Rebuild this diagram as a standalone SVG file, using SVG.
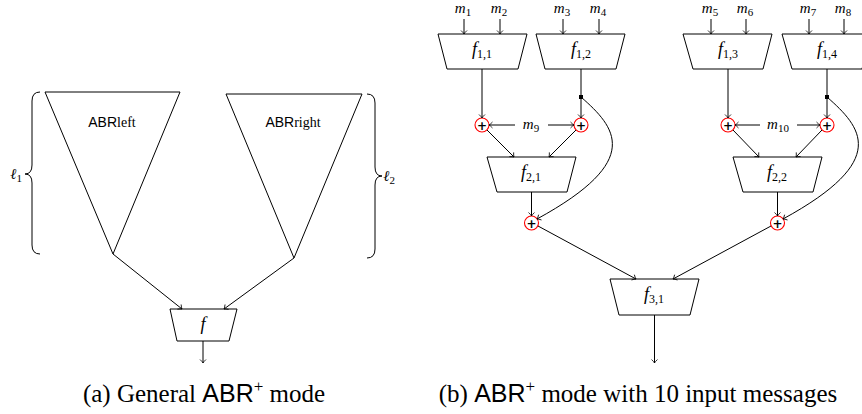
<svg xmlns="http://www.w3.org/2000/svg" width="862" height="414" viewBox="0 0 862 414">
<style>
.sh{fill:#fff;stroke:#000;stroke-width:1}
.ln{fill:none;stroke:#000;stroke-width:1}
.ar{marker-end:url(#ah)}
.ci{fill:#fff;stroke:#f00;stroke-width:1.1}
.pl{font-family:"DejaVu Sans",sans-serif;font-size:12px;font-weight:bold;text-anchor:middle}
.mi{font-family:"Liberation Serif",serif;font-style:italic;font-size:15px;text-anchor:middle}
.fi{font-family:"Liberation Serif",serif;font-style:italic;font-size:18px;text-anchor:middle}
.sub{font-style:normal;font-size:11px}
.fs{font-style:normal;font-size:12px}
.ss{font-family:"Liberation Sans",sans-serif;font-style:normal}
.se{font-family:"Liberation Serif",serif;font-style:normal}
.cap{font-family:"Liberation Serif",serif;font-size:25px;text-anchor:middle}
</style>
<defs>
<marker id="ah" viewBox="-5 -4 6 8" markerWidth="6" markerHeight="8" refX="0" refY="0" orient="auto" markerUnits="userSpaceOnUse">
<path d="M-3.5,-3 Q-1.5,-0.8 0,0 Q-1.5,0.8 -3.5,3" fill="none" stroke="#000" stroke-width="0.8"/>
</marker>
</defs>
<rect width="862" height="414" fill="#fff"/>

<!-- (a) left diagram -->
<g id="abr-left">
<path class="sh" d="M45,92 L180,92 L113,254 Z"/>
<text x="112" y="127" style="font-size:14px;text-anchor:middle"><tspan class="ss">ABR</tspan><tspan class="se">left</tspan></text>
</g>
<g id="abr-right">
<path class="sh" d="M226,94 L362,94 L294,258 Z"/>
<text x="293" y="127" style="font-size:14px;text-anchor:middle"><tspan class="ss">ABR</tspan><tspan class="se">right</tspan></text>
</g>
<g id="brace-l1">
<path class="ln" d="M40,92 Q32,92 32,101 L32,165 Q32,174 25,174 Q32,174 32,183 L32,245 Q32,254 40,254"/>
<text class="mi" x="16" y="179">ℓ<tspan class="sub" dy="3">1</tspan></text>
</g>
<g id="brace-l2">
<path class="ln" d="M367,94 Q375,94 375,103 L375,167 Q375,176 382,176 Q375,176 375,185 L375,249 Q375,258 367,258"/>
<text class="mi" x="389" y="181">ℓ<tspan class="sub" dy="3">2</tspan></text>
</g>
<g id="f">
<path class="sh" d="M170,309 L237,309 L229,341 L177,341 Z"/>
<text class="fi" x="203" y="330">f</text>
</g>

<!-- (b) right diagram nodes -->
<g id="f11"><path class="sh" d="M438,34 L527,34 L518,69 L447,69 Z"/><text class="fi" x="482" y="55">f<tspan class="fs" dy="3">1,1</tspan></text></g>
<g id="f12"><path class="sh" d="M536,34 L625,34 L616,69 L545,69 Z"/><text class="fi" x="581" y="55">f<tspan class="fs" dy="3">1,2</tspan></text></g>
<g id="f13"><path class="sh" d="M683,34 L772,34 L763,69 L693,69 Z"/><text class="fi" x="728" y="55">f<tspan class="fs" dy="3">1,3</tspan></text></g>
<g id="f14"><path class="sh" d="M782,34 L871,34 L862,69 L792,69 Z"/><text class="fi" x="827" y="55">f<tspan class="fs" dy="3">1,4</tspan></text></g>
<g id="f21"><path class="sh" d="M487,157 L576,157 L567,192 L497,192 Z"/><text class="fi" x="531" y="178">f<tspan class="fs" dy="3">2,1</tspan></text></g>
<g id="f22"><path class="sh" d="M733,157 L822,157 L813,192 L743,192 Z"/><text class="fi" x="777" y="178">f<tspan class="fs" dy="3">2,2</tspan></text></g>
<g id="f31"><path class="sh" d="M610,279 L699,279 L690,315 L619,315 Z"/><text class="fi" x="654" y="300">f<tspan class="fs" dy="3">3,1</tspan></text></g>

<g id="p1"><circle class="ci" cx="482" cy="125" r="7"/><text class="pl" x="482" y="129.5">+</text></g>
<g id="p2"><circle class="ci" cx="581" cy="125" r="7"/><text class="pl" x="581" y="129.5">+</text></g>
<g id="p3"><circle class="ci" cx="728" cy="125" r="7"/><text class="pl" x="728" y="129.5">+</text></g>
<g id="p4"><circle class="ci" cx="827" cy="125" r="7"/><text class="pl" x="827" y="129.5">+</text></g>
<g id="p5"><circle class="ci" cx="531.5" cy="223" r="7"/><text class="pl" x="531.5" y="227.5">+</text></g>
<g id="p6"><circle class="ci" cx="777.5" cy="223" r="7"/><text class="pl" x="777.5" y="227.5">+</text></g>

<g id="labels">
<text class="mi" x="463" y="13">m<tspan class="sub" dy="3">1</tspan></text>
<text class="mi" x="499" y="13">m<tspan class="sub" dy="3">2</tspan></text>
<text class="mi" x="562" y="13">m<tspan class="sub" dy="3">3</tspan></text>
<text class="mi" x="598" y="13">m<tspan class="sub" dy="3">4</tspan></text>
<text class="mi" x="710" y="13">m<tspan class="sub" dy="3">5</tspan></text>
<text class="mi" x="745" y="13">m<tspan class="sub" dy="3">6</tspan></text>
<text class="mi" x="808" y="13">m<tspan class="sub" dy="3">7</tspan></text>
<text class="mi" x="843" y="13">m<tspan class="sub" dy="3">8</tspan></text>
<text class="mi" x="531" y="129">m<tspan class="sub" dy="3">9</tspan></text>
<text class="mi" x="778" y="129">m<tspan class="sub" dy="3">10</tspan></text>
</g>

<g id="connectors">
<path class="ln ar" d="M113,254 L182,309"/>
<path class="ln ar" d="M294,258 L224,309"/>
<path class="ln ar" d="M203,341 L203,363"/>

<path class="ln ar" d="M464,19 L464,34"/>
<path class="ln ar" d="M500,19 L500,34"/>
<path class="ln ar" d="M563,19 L563,34"/>
<path class="ln ar" d="M599,19 L599,34"/>
<path class="ln ar" d="M711,19 L711,34"/>
<path class="ln ar" d="M746,19 L746,34"/>
<path class="ln ar" d="M809,19 L809,34"/>
<path class="ln ar" d="M844,19 L844,34"/>

<path class="ln ar" d="M482,69 L482,118"/>
<path class="ln ar" d="M581,69 L581,118"/>
<path class="ln ar" d="M728,69 L728,118"/>
<path class="ln ar" d="M827,69 L827,118"/>
<rect x="579" y="95" width="4" height="4" fill="#000"/>
<rect x="825" y="95" width="4" height="4" fill="#000"/>

<path class="ln ar" d="M515,125 L489,125"/>
<path class="ln ar" d="M548,125 L574,125"/>
<path class="ln ar" d="M760,125 L735,125"/>
<path class="ln ar" d="M797,125 L820,125"/>

<path class="ln ar" d="M487,130 L514,157"/>
<path class="ln ar" d="M576,130 L549,157"/>
<path class="ln ar" d="M733,130 L759,157"/>
<path class="ln ar" d="M822,130 L796,157"/>

<path class="ln ar" d="M531.5,192 L531.5,216"/>
<path class="ln ar" d="M777.5,192 L777.5,216"/>
<path class="ln ar" d="M581,97 C615,127 645,160 537,219"/>
<path class="ln ar" d="M827,97 C861,127 891,160 783,219"/>

<path class="ln ar" d="M538,226 L636,279"/>
<path class="ln ar" d="M771,226 L673,279"/>
<path class="ln ar" d="M654.5,315 L654.5,363"/>
</g>

<g id="captions">
<text class="cap" x="204" y="402">(a) General <tspan class="ss">ABR</tspan><tspan font-size="17" dy="-10">+</tspan><tspan dy="10"> mode</tspan></text>
<text class="cap" x="638" y="402">(b) <tspan class="ss">ABR</tspan><tspan font-size="17" dy="-10">+</tspan><tspan dy="10"> mode with 10 input messages</tspan></text>
</g>
</svg>
